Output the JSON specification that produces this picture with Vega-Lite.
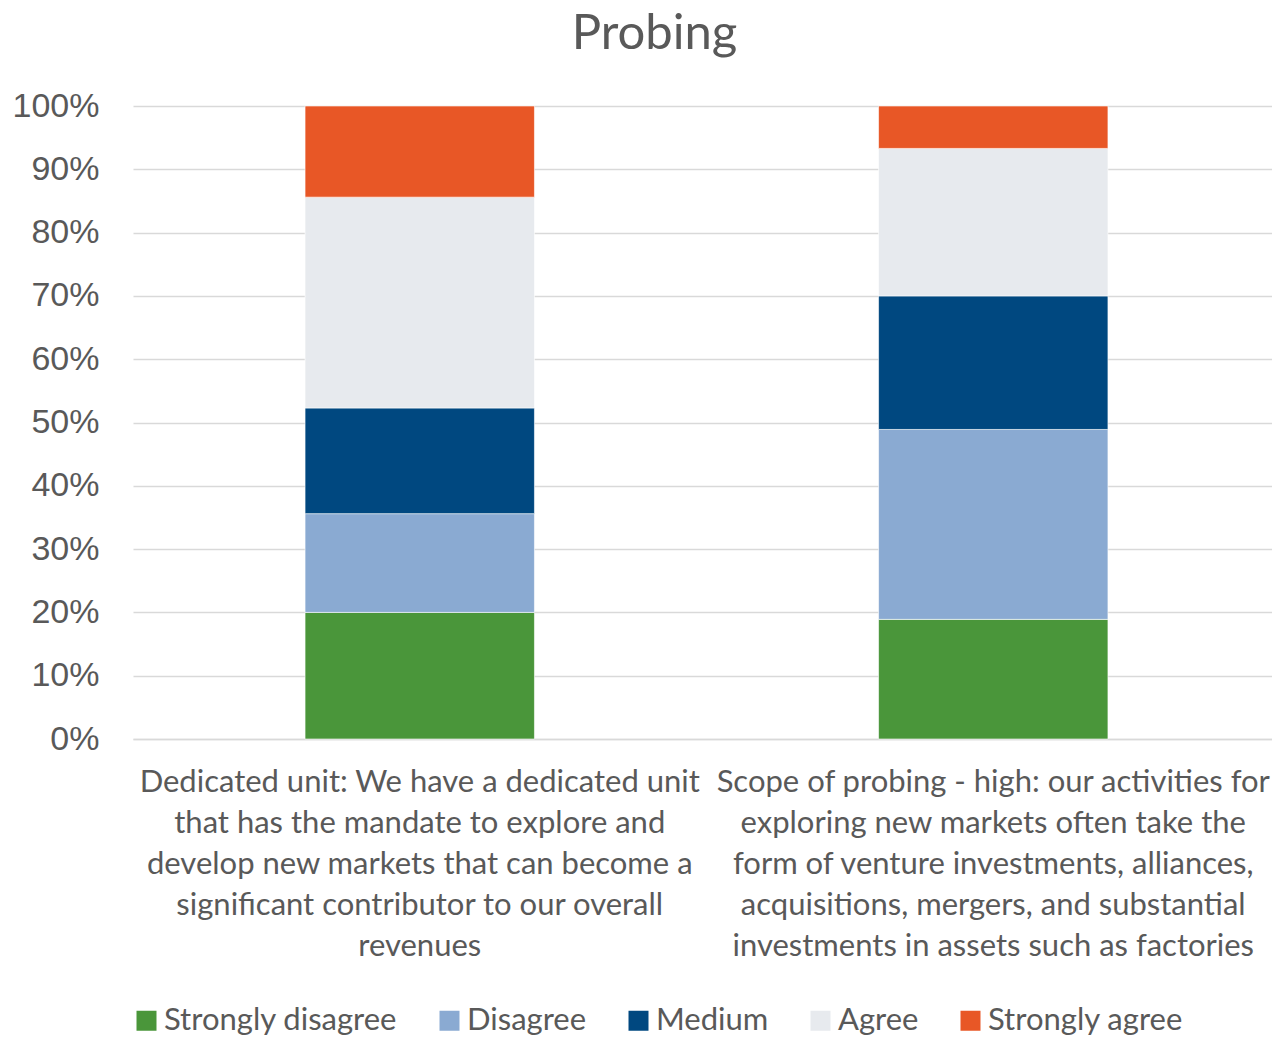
{
  "$schema": "https://vega.github.io/schema/vega-lite/v6.json",
  "autosize": "none",
  "padding": {"left": 133, "top": 106, "right": -8, "bottom": 298},
  "width": 1147,
  "height": 633,
  "background": "white",
  "title": {
    "text": "Probing",
    "font": "Lato",
    "fontSize": 49,
    "fontWeight": "normal",
    "color": "#595959",
    "anchor": "middle",
    "dx": -52,
    "offset": 30
  },
  "data": {
    "values": [
      {"statement": "Dedicated unit: We have a dedicated unit|that has the mandate to explore and|develop new markets that can become a|significant contributor to our overall|revenues", "response": "Strongly disagree", "rank": 1, "pct": 20.0},
      {"statement": "Dedicated unit: We have a dedicated unit|that has the mandate to explore and|develop new markets that can become a|significant contributor to our overall|revenues", "response": "Disagree", "rank": 2, "pct": 15.6},
      {"statement": "Dedicated unit: We have a dedicated unit|that has the mandate to explore and|develop new markets that can become a|significant contributor to our overall|revenues", "response": "Medium", "rank": 3, "pct": 16.7},
      {"statement": "Dedicated unit: We have a dedicated unit|that has the mandate to explore and|develop new markets that can become a|significant contributor to our overall|revenues", "response": "Agree", "rank": 4, "pct": 33.3},
      {"statement": "Dedicated unit: We have a dedicated unit|that has the mandate to explore and|develop new markets that can become a|significant contributor to our overall|revenues", "response": "Strongly agree", "rank": 5, "pct": 14.4},
      {"statement": "Scope of probing - high: our activities for|exploring new markets often take the|form of venture investments, alliances,|acquisitions, mergers, and substantial|investments in assets such as factories", "response": "Strongly disagree", "rank": 1, "pct": 18.9},
      {"statement": "Scope of probing - high: our activities for|exploring new markets often take the|form of venture investments, alliances,|acquisitions, mergers, and substantial|investments in assets such as factories", "response": "Disagree", "rank": 2, "pct": 30.0},
      {"statement": "Scope of probing - high: our activities for|exploring new markets often take the|form of venture investments, alliances,|acquisitions, mergers, and substantial|investments in assets such as factories", "response": "Medium", "rank": 3, "pct": 21.1},
      {"statement": "Scope of probing - high: our activities for|exploring new markets often take the|form of venture investments, alliances,|acquisitions, mergers, and substantial|investments in assets such as factories", "response": "Agree", "rank": 4, "pct": 23.3},
      {"statement": "Scope of probing - high: our activities for|exploring new markets often take the|form of venture investments, alliances,|acquisitions, mergers, and substantial|investments in assets such as factories", "response": "Strongly agree", "rank": 5, "pct": 6.7}
    ]
  },
  "mark": {"type": "bar", "width": {"band": 0.4}, "stroke": "white", "strokeWidth": 0.6},
  "encoding": {
    "x": {
      "field": "statement",
      "type": "nominal",
      "sort": null,
      "scale": {"paddingInner": 0, "paddingOuter": 0},
      "axis": {
        "title": null,
        "labelAngle": 0,
        "labelExpr": "split(datum.label, '|')",
        "labelFont": "Lato",
        "labelFontSize": 31,
        "labelColor": "#595959",
        "labelLineHeight": 41,
        "labelBaseline": "top",
        "labelPadding": 28,
        "labelLimit": 800,
        "labelOverlap": false,
        "labelBound": false,
        "ticks": false,
        "domain": true,
        "domainColor": "#d9d9d9",
        "domainWidth": 1.5
      }
    },
    "y": {
      "field": "pct",
      "type": "quantitative",
      "stack": "normalize",
      "scale": {"domain": [0, 1]},
      "axis": {
        "title": null,
        "format": ".0%",
        "values": [0, 0.1, 0.2, 0.3, 0.4, 0.5, 0.6, 0.7, 0.8, 0.9, 1],
        "labelFont": "Liberation Sans",
        "labelFontSize": 34,
        "labelColor": "#595959",
        "labelPadding": 34,
        "ticks": false,
        "domain": false,
        "grid": true,
        "gridColor": "#d9d9d9",
        "gridWidth": 1.5
      }
    },
    "order": {"field": "rank", "type": "quantitative", "sort": "ascending"},
    "color": {
      "field": "response",
      "type": "nominal",
      "scale": {
        "domain": ["Strongly disagree", "Disagree", "Medium", "Agree", "Strongly agree"],
        "range": ["#4a963a", "#8aaad2", "#004880", "#e7eaee", "#e85726"]
      },
      "legend": {
        "title": null,
        "orient": "none",
        "legendX": -2,
        "legendY": 899,
        "direction": "horizontal",
        "columns": 5,
        "symbolType": "square",
        "symbolSize": 400,
        "symbolStrokeWidth": 0,
        "labelFont": "Lato",
        "labelFontSize": 31,
        "labelColor": "#595959",
        "labelOffset": 2,
        "columnPadding": 36,
        "labelLimit": 400
      }
    }
  },
  "config": {"view": {"stroke": null}}
}
